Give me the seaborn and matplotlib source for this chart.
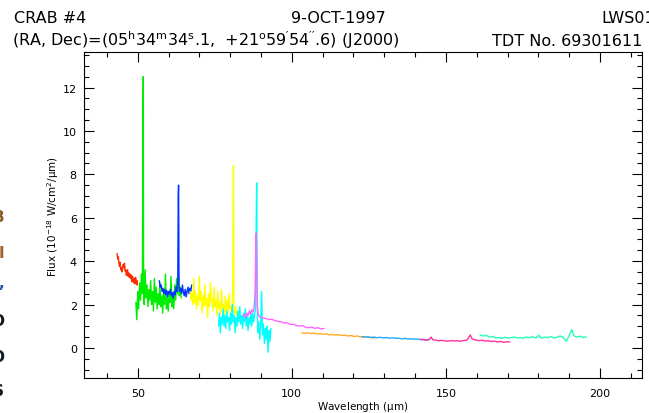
import pandas as pd
import matplotlib
matplotlib.use("Agg")
import matplotlib.pyplot as plt
import seaborn as sns
from matplotlib.ticker import MultipleLocator

# LWS detector segments: (wavelength in um, flux in 1e-18 W/cm2/um)
sw1 = [(43.3, 4.35), (43.5, 4.1), (43.7, 4.2), (43.9, 3.9), (44.1, 3.75), (44.3, 3.95),
       (44.5, 3.6), (44.7, 3.7), (44.9, 3.5), (45.1, 3.65), (45.3, 3.85), (45.5, 3.7),
       (45.7, 3.9), (45.9, 3.55), (46.1, 3.6), (46.3, 3.35), (46.5, 3.5), (46.7, 3.6),
       (46.9, 3.3), (47.1, 3.45), (47.3, 3.25), (47.5, 3.4), (47.7, 3.2), (47.9, 3.35),
       (48.1, 3.05), (48.3, 3.3), (48.5, 3.15), (48.7, 3.0), (48.9, 3.2), (49.1, 2.95),
       (49.3, 3.25), (49.5, 3.05), (49.7, 2.9), (49.9, 3.1)]

sw2 = [(49.4, 2.1), (49.7, 1.3), (50.0, 2.6), (50.3, 1.8), (50.6, 3.0), (50.9, 2.2),
       (51.2, 3.4), (51.5, 2.5), (51.7, 10.8), (51.8, 12.5), (51.9, 2.9), (52.1, 2.0),
       (52.4, 3.6), (52.7, 2.3), (53.0, 2.9), (53.3, 1.9), (53.6, 2.7), (53.9, 2.2),
       (54.2, 3.1), (54.5, 2.0), (54.8, 2.6), (55.1, 1.7), (55.4, 3.2), (55.7, 2.1),
       (56.0, 2.8), (56.3, 1.8), (56.6, 2.5), (56.9, 2.0), (57.2, 3.0), (57.5, 1.9),
       (57.8, 2.4), (58.1, 1.6), (58.4, 2.7), (58.7, 2.0), (59.0, 3.4), (59.3, 1.8),
       (59.6, 2.3), (59.9, 1.7), (60.2, 2.6), (60.5, 2.1), (60.8, 3.3), (61.1, 1.9),
       (61.4, 2.4), (61.7, 1.8), (62.0, 2.9), (62.3, 2.2), (62.6, 3.2), (62.9, 2.5),
       (63.2, 3.3), (63.5, 2.4), (63.8, 2.8), (64.1, 2.3)]

sw3 = [(57.0, 3.1), (57.3, 2.8), (57.6, 2.9), (57.9, 2.6), (58.2, 2.75), (58.5, 2.5),
       (58.8, 2.7), (59.1, 2.45), (59.4, 2.65), (59.7, 2.35), (60.0, 2.6), (60.3, 2.5),
       (60.6, 2.7), (60.9, 2.4), (61.2, 2.55), (61.5, 2.3), (61.8, 2.6), (62.1, 2.45),
       (62.4, 2.8), (62.7, 2.6), (63.0, 3.2), (63.15, 7.0), (63.25, 7.5), (63.4, 2.9),
       (63.6, 2.6), (63.9, 2.75), (64.2, 2.5), (64.5, 2.9), (64.8, 2.55), (65.1, 2.4),
       (65.4, 2.7), (65.7, 2.35), (66.0, 2.6), (66.3, 2.8), (66.6, 2.5), (66.9, 2.75),
       (67.2, 2.6), (67.5, 2.9)]

sw4 = [(67.0, 2.6), (67.3, 2.2), (67.6, 2.5), (67.9, 2.0), (68.2, 3.2), (68.5, 2.1),
       (68.8, 2.6), (69.1, 1.8), (69.4, 2.4), (69.7, 2.0), (70.0, 3.3), (70.3, 2.2),
       (70.6, 2.6), (70.9, 1.6), (71.2, 2.4), (71.5, 1.9), (71.8, 2.9), (72.1, 2.0),
       (72.4, 2.3), (72.7, 1.4), (73.0, 2.5), (73.3, 1.9), (73.6, 3.0), (73.9, 2.1),
       (74.2, 2.3), (74.5, 1.7), (74.8, 2.8), (75.1, 1.9), (75.4, 2.2), (75.7, 1.5),
       (76.0, 2.6), (76.3, 1.8), (76.6, 2.1), (76.9, 1.6), (77.2, 2.7), (77.5, 1.8),
       (77.8, 2.0), (78.1, 1.3), (78.4, 2.4), (78.7, 1.7), (79.0, 2.2), (79.3, 1.6),
       (79.6, 2.5), (79.9, 1.8), (80.2, 1.9), (80.5, 1.5), (80.8, 2.6), (80.95, 5.9),
       (81.05, 8.4), (81.2, 2.0), (81.5, 1.6), (81.8, 1.9), (82.1, 1.5)]

sw5 = [(76.2, 1.0), (76.5, 1.6), (76.8, 0.7), (77.1, 1.4), (77.4, 1.1), (77.7, 1.8),
       (78.0, 1.0), (78.3, 1.5), (78.6, 0.9), (78.9, 1.7), (79.2, 1.2), (79.5, 1.4),
       (79.8, 0.8), (80.1, 1.6), (80.4, 1.1), (80.7, 2.0), (81.0, 1.2), (81.3, 1.5),
       (81.6, 0.7), (81.9, 1.4), (82.2, 1.0), (82.5, 1.7), (82.8, 1.2), (83.1, 1.9),
       (83.4, 1.1), (83.7, 1.5), (84.0, 0.9), (84.3, 1.6), (84.6, 1.2), (84.9, 1.8),
       (85.2, 1.0), (85.5, 1.5), (85.8, 0.8), (86.1, 1.4), (86.4, 1.1), (86.7, 1.7),
       (87.0, 1.0), (87.3, 1.6), (87.6, 1.2), (87.9, 1.5), (88.2, 1.8), (88.35, 4.2),
       (88.5, 6.6), (88.6, 7.6), (88.7, 5.0), (88.85, 1.5), (89.0, 0.7), (89.3, 1.2),
       (89.6, 0.4), (89.9, 1.0), (90.2, 2.6), (90.5, 0.6), (90.8, 1.1), (91.1, 0.2),
       (91.4, 0.9), (91.7, 0.4), (92.0, 1.0), (92.3, -0.2), (92.6, 0.8), (92.9, 0.3),
       (93.2, 0.9)]

lw1 = [(84.2, 1.45), (84.6, 1.55), (85.0, 1.4), (85.4, 1.6), (85.8, 1.5), (86.2, 1.7),
       (86.6, 1.55), (87.0, 1.75), (87.4, 1.65), (87.8, 1.9), (88.1, 2.6), (88.3, 4.8),
       (88.45, 5.3), (88.6, 3.6), (88.8, 1.9), (89.1, 1.55), (89.5, 1.45), (90.0, 1.4),
       (90.5, 1.38), (91.5, 1.36), (92.5, 1.31), (93.5, 1.32), (94.5, 1.26), (95.5, 1.23),
       (96.5, 1.2), (97.5, 1.15), (98.5, 1.16), (99.5, 1.08), (100.5, 1.09), (101.5, 1.03),
       (102.5, 1.0), (103.5, 1.03), (104.5, 0.95), (105.5, 0.93), (106.5, 0.96),
       (107.5, 0.9), (108.5, 0.93), (109.5, 0.87), (110.5, 0.9)]

lw2 = [(103.2, 0.69), (104.2, 0.67), (105.2, 0.70), (106.2, 0.66), (107.2, 0.68),
       (108.2, 0.64), (109.2, 0.66), (110.2, 0.63), (111.2, 0.65), (112.2, 0.60),
       (113.2, 0.62), (114.2, 0.59), (115.2, 0.61), (116.2, 0.57), (117.2, 0.59),
       (118.2, 0.55), (119.2, 0.57), (120.2, 0.53), (121.2, 0.55), (122.2, 0.51),
       (123.2, 0.52), (124.2, 0.49), (125.2, 0.50), (126.2, 0.46), (127.2, 0.47)]

lw3 = [(122.7, 0.52), (123.7, 0.50), (124.7, 0.51), (125.7, 0.48), (126.7, 0.50),
       (127.7, 0.47), (128.7, 0.49), (129.7, 0.46), (130.7, 0.48), (131.7, 0.45),
       (132.7, 0.47), (133.7, 0.44), (134.7, 0.45), (135.7, 0.42), (136.7, 0.44),
       (137.7, 0.41), (138.7, 0.42), (139.7, 0.40), (140.7, 0.41), (141.7, 0.38),
       (142.7, 0.39), (143.7, 0.37), (144.7, 0.38)]

lw4 = [(141.7, 0.40), (142.7, 0.38), (143.7, 0.36), (144.7, 0.40), (145.2, 0.50),
       (145.7, 0.38), (146.7, 0.36), (147.7, 0.33), (148.7, 0.35), (149.7, 0.32),
       (150.7, 0.31), (151.7, 0.34), (152.7, 0.32), (153.7, 0.33), (154.7, 0.31),
       (155.7, 0.34), (156.7, 0.35), (157.3, 0.45), (157.9, 0.60), (158.5, 0.42),
       (159.7, 0.36), (160.7, 0.34), (161.7, 0.35), (162.7, 0.32), (163.7, 0.33),
       (164.7, 0.30), (165.7, 0.31), (166.7, 0.28), (167.7, 0.30), (168.7, 0.26),
       (169.7, 0.28), (170.7, 0.27)]

lw5 = [(161.1, 0.60), (162.1, 0.55), (163.1, 0.58), (164.1, 0.50), (165.1, 0.53),
       (166.1, 0.46), (167.1, 0.48), (168.1, 0.44), (169.1, 0.49), (170.1, 0.45),
       (171.1, 0.47), (172.1, 0.50), (173.1, 0.46), (174.1, 0.48), (175.1, 0.44),
       (176.1, 0.50), (177.1, 0.47), (178.1, 0.52), (179.1, 0.46), (180.1, 0.58),
       (181.1, 0.45), (182.1, 0.50), (183.1, 0.47), (184.1, 0.53), (185.1, 0.45),
       (186.1, 0.50), (187.1, 0.55), (188.1, 0.48), (189.1, 0.30), (190.1, 0.62),
       (190.9, 0.84), (191.6, 0.55), (192.6, 0.50), (193.6, 0.54), (194.6, 0.48),
       (195.6, 0.51)]

detectors = ["SW1", "SW2", "SW3", "SW4", "SW5", "LW1", "LW2", "LW3", "LW4", "LW5"]
spectra = [sw1, sw2, sw3, sw4, sw5, lw1, lw2, lw3, lw4, lw5]

colors = ["#ff2a00", "#00ee00", "#0033ff", "#ffff00", "#00ffff",
          "#ff66ff", "#ffaa22", "#1fa8ff", "#ff3399", "#22ffbb"]

rows = []
for det, pts in zip(detectors, spectra):
    for wl, fl in pts:
        rows.append({"wavelength": wl, "flux": fl, "detector": det})
df = pd.DataFrame(rows)

sns.set_style("ticks")
plt.rcParams["font.family"] = ["DejaVu Sans"]
plt.rcParams["mathtext.default"] = "regular"
plt.rcParams["text.color"] = "black"
plt.rcParams["axes.labelcolor"] = "black"

W, H = 649, 414
fig = plt.figure(figsize=(W / 100, H / 100), dpi=100)
ax = fig.add_axes([83.8 / W, 1 - 379.3 / H, (641.6 - 83.8) / W, (379.3 - 52.7) / H])

sns.lineplot(data=df, x="wavelength", y="flux", hue="detector", hue_order=detectors,
             palette=dict(zip(detectors, colors)), estimator=None, sort=False,
             linewidth=1.0, legend=False, ax=ax)

ax.set_xlim(32.5, 213.5)
ax.set_ylim(-1.4, 13.65)
ax.xaxis.set_major_locator(MultipleLocator(50))
ax.xaxis.set_minor_locator(MultipleLocator(10))
ax.yaxis.set_major_locator(MultipleLocator(2))
ax.yaxis.set_minor_locator(MultipleLocator(0.5))
ax.tick_params(which="both", direction="in", top=True, right=True, width=0.8,
               colors="black", labelsize=8)
ax.tick_params(which="major", length=7)
ax.tick_params(which="minor", length=3.5)
ax.tick_params(axis="x", pad=7)
ax.tick_params(axis="y", pad=5)
for sp in ax.spines.values():
    sp.set_linewidth(0.8)
    sp.set_color("black")

ax.set_xlabel("Wavelength ($\\mu$m)", fontsize=7.5, labelpad=0.5)
ax.set_ylabel("Flux (10$^{-18}$ W/cm$^{2}$/$\\mu$m)", fontsize=7.5, labelpad=1)

# header lines
hdr = 11.5
fig.text(14 / W, 1 - 23 / H, "CRAB #4", fontsize=hdr, va="baseline")
fig.text(338 / W, 1 - 23 / H, "9-OCT-1997", fontsize=hdr, va="baseline", ha="center")
fig.text(601 / W, 1 - 23 / H, "LWS01", fontsize=hdr, va="baseline")
fig.text(12 / W, 1 - 46 / H,
         "(RA, Dec)=(05$^{h}$34$^{m}$34$^{s}$.1,  +21$^{o}$59$^{\\prime}$54$^{\\prime\\prime}$.6) (J2000)",
         fontsize=hdr, va="baseline")
fig.text(492 / W, 1 - 46 / H, "TDT No. 69301611", fontsize=hdr, va="baseline")

# cut-off glyphs along the left edge of the scan
edge = [("B", 218, "#8a5a2a"), ("I", 253, "#a0602a"), (",", 284, "#2050a0"),
        ("O", 322, "#101820"), ("O", 357, "#101820"), ("S", 392, "#101820")]
for ch, yy, c in edge:
    fig.text(4 / W, 1 - yy / H, ch, ha="right", va="center", color=c,
             fontsize=11, fontweight="bold")

fig.savefig("out.png", dpi=100)
